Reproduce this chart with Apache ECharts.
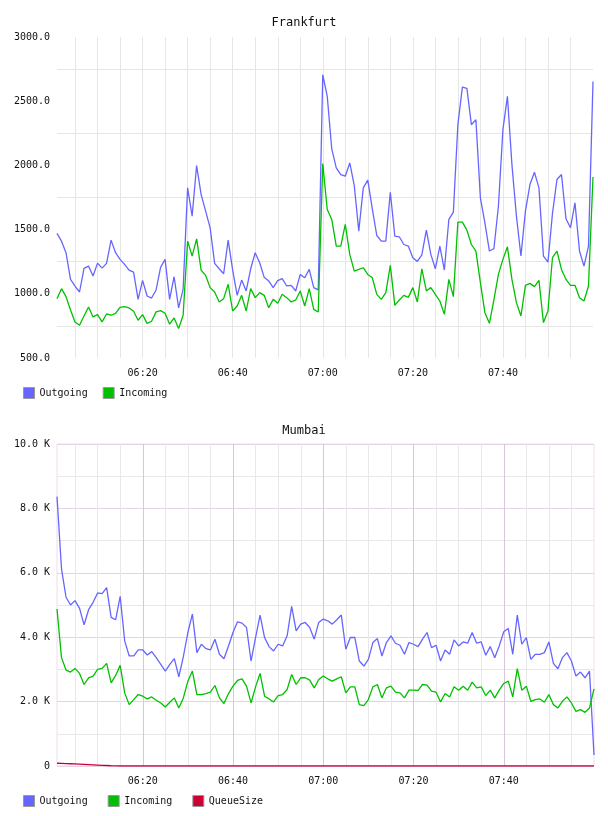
<!DOCTYPE html>
<html>
<head>
<meta charset="utf-8">
<script src="https://cdn.jsdelivr.net/npm/echarts@6/dist/echarts.min.js"></script>
<style>
  html, body { margin: 0; padding: 0; background: #fff; }
  #chart { width: 608px; height: 816px; }
</style>
</head>
<body>
<div id="chart"></div>
<script>
// samples, one per minute starting 06:00:59
const startTime = new Date(2024, 0, 1, 6, 0, 59).getTime();
const stepMs = 60000;

const frankfurtOutgoing = [
  1470, 1410, 1320, 1112, 1060, 1014, 1198, 1216, 1138, 1239, 1200, 1237, 1418, 1320, 1268, 1229, 1185, 1169, 957, 1105,
  983, 967, 1030, 1206, 1268, 957, 1133, 890, 1035, 1825, 1605, 1999, 1773, 1644, 1514, 1237, 1195, 1156, 1418, 1185,
  988, 1107, 1022, 1195, 1320, 1242, 1128, 1100, 1048, 1102, 1118, 1061, 1066, 1022, 1151, 1125, 1190, 1048, 1030, 2706,
  2538, 2128, 1980, 1929, 1916, 2019, 1843, 1488, 1825, 1885, 1662, 1454, 1410, 1410, 1791, 1449, 1444, 1384, 1372, 1281,
  1252, 1304, 1496, 1307, 1195, 1372, 1185, 1579, 1636, 2317, 2610, 2600, 2317, 2356, 1747, 1553, 1333, 1351, 1682, 2278,
  2538, 2006, 1605, 1294, 1644, 1851, 1947, 1825, 1294, 1247, 1625, 1890, 1929, 1584, 1514, 1708, 1333, 1216, 1372, 2654
];
const frankfurtIncoming = [
  962, 1040, 978, 874, 781, 755, 827, 897, 820, 838, 781, 843, 833, 848, 895, 900, 890, 864, 794, 838,
  770, 786, 859, 869, 848, 763, 812, 729, 833, 1410, 1294, 1428, 1185, 1143, 1048, 1014, 936, 962, 1074, 866,
  905, 988, 866, 1040, 970, 1009, 988, 892, 957, 926, 996, 970, 936, 952, 1022, 905, 1040, 879, 858, 2014,
  1657, 1579, 1372, 1372, 1540, 1307, 1177, 1190, 1203, 1151, 1125, 996, 957, 1009, 1221, 910, 952, 988, 972, 1048,
  936, 1195, 1022, 1048, 996, 944, 840, 1112, 978, 1558, 1558, 1496, 1384, 1333, 1087, 853, 770, 952, 1151, 1268,
  1366, 1112, 931, 827, 1066, 1081, 1056, 1105, 776, 866, 1281, 1333, 1190, 1112, 1066, 1066, 970, 944, 1061, 1910
];

const mumbaiOutgoing = [
  8365, 6125, 5240, 5000, 5135, 4896, 4385, 4854, 5083, 5375, 5354, 5540, 4615, 4542, 5270, 3885, 3417, 3417, 3604, 3604,
  3448, 3552, 3365, 3156, 2948, 3156, 3333, 2771, 3396, 4146, 4719, 3521, 3781, 3646, 3604, 3938, 3469, 3333, 3729, 4146,
  4479, 4438, 4302, 3260, 3990, 4688, 3990, 3708, 3573, 3781, 3729, 4042, 4958, 4198, 4406, 4458, 4302, 3938, 4458, 4563,
  4510, 4406, 4542, 4688, 3625, 3990, 3990, 3260, 3104, 3312, 3833, 3958, 3417, 3833, 4042, 3813, 3750, 3469, 3833, 3781,
  3708, 3938, 4146, 3677, 3750, 3260, 3604, 3469, 3917, 3729, 3854, 3813, 4146, 3813, 3854, 3438, 3708, 3365, 3729, 4167,
  4271, 3469, 4688, 3781, 3990, 3312, 3469, 3469, 3521, 3854, 3188, 3021, 3365, 3521, 3260, 2792, 2917, 2740, 2948, 344
];
const mumbaiIncoming = [
  4875, 3365, 2979, 2917, 3031, 2875, 2531, 2740, 2792, 3000, 3031, 3188, 2583, 2813, 3125, 2271, 1906, 2063, 2219, 2167,
  2083, 2146, 2042, 1958, 1833, 1979, 2115, 1802, 2115, 2635, 2948, 2219, 2219, 2250, 2292, 2500, 2115, 1938, 2250, 2479,
  2656, 2708, 2479, 1958, 2458, 2875, 2167, 2083, 1990, 2188, 2219, 2375, 2844, 2531, 2740, 2740, 2667, 2427, 2688, 2792,
  2708, 2635, 2708, 2771, 2271, 2458, 2458, 1906, 1875, 2063, 2458, 2531, 2115, 2427, 2479, 2292, 2271, 2115, 2354, 2354,
  2344, 2531, 2510, 2323, 2292, 1990, 2250, 2146, 2458, 2354, 2479, 2354, 2604, 2427, 2458, 2188, 2354, 2115, 2354, 2563,
  2635, 2146, 3021, 2354, 2479, 2010, 2063, 2083, 1979, 2219, 1906, 1802, 2010, 2146, 1958, 1698, 1750, 1667, 1802, 2396
];
const mumbaiQueue = [
  85, 80, 75, 70, 64, 58, 51, 44, 37, 30, 22, 15, 8, 3, 0, 0, 0, 0, 0, 0,
  0, 0, 0, 0, 0, 0, 0, 0, 0, 0, 0, 0, 0, 0, 0, 0, 0, 0, 0, 0,
  0, 0, 0, 0, 0, 0, 0, 0, 0, 0, 0, 0, 0, 0, 0, 0, 0, 0, 0, 0,
  0, 0, 0, 0, 0, 0, 0, 0, 0, 0, 0, 0, 0, 0, 0, 0, 0, 0, 0, 0,
  0, 0, 0, 0, 0, 0, 0, 0, 0, 0, 0, 0, 0, 0, 0, 0, 0, 0, 0, 0,
  0, 0, 0, 0, 0, 0, 0, 0, 0, 0, 0, 0, 0, 0, 0, 0, 0, 0, 0, 0
];

const legendTop = ['Outgoing', 'Incoming'];
const legendBottom = ['Outgoing', 'Incoming', 'QueueSize'];

const BLUE = '#6666ff';
const GREEN = '#00c000';
const RED = '#cc0033';
const MONO = 'DejaVu Sans Mono';

const tMin = startTime;
const tMax = startTime + (frankfurtOutgoing.length - 1) * stepMs;

function withTime(values) {
  return values.map((v, i) => [startTime + i * stepMs, v]);
}

function pad(n) { return (n < 10 ? '0' : '') + n; }
function timeLabel(v) {
  const d = new Date(v);
  if (d.getSeconds() === 0 && d.getMinutes() % 20 === 0) {
    return pad(d.getHours()) + ':' + pad(d.getMinutes());
  }
  return '';
}

const labelStyle = { fontFamily: MONO, fontSize: 10, color: '#111' };

function timeAxis(gridIndex, splitNumber, lineColor, showLabels) {
  return {
    type: 'time',
    gridIndex: gridIndex,
    position: 'bottom',
    min: tMin,
    max: tMax,
    splitNumber: splitNumber,
    axisLine: { show: false },
    axisTick: { show: false },
    axisLabel: Object.assign({ show: showLabels, formatter: timeLabel, margin: 10, hideOverlap: false }, labelStyle),
    splitLine: { show: true, showMinLine: false, showMaxLine: false, lineStyle: { color: lineColor, width: 1 } }
  };
}

function line(name, data, color, x, y) {
  return {
    name: name,
    type: 'line',
    xAxisIndex: x,
    yAxisIndex: y,
    data: withTime(data),
    showSymbol: false,
    symbol: 'none',
    lineStyle: { color: color, width: 1.3 },
    itemStyle: { color: color },
    emphasis: { disabled: true }
  };
}

const chart = echarts.init(document.getElementById('chart'), null, { renderer: 'canvas' });

chart.setOption({
  animation: false,
  backgroundColor: '#fff',
  title: [
    { text: 'Frankfurt', left: 'center', top: 12, textStyle: { fontFamily: MONO, fontSize: 12, fontWeight: 'normal', color: '#111' } },
    { text: 'Mumbai', left: 'center', top: 420, textStyle: { fontFamily: MONO, fontSize: 12, fontWeight: 'normal', color: '#111' } }
  ],
  legend: [
    {
      data: legendTop, left: 18, top: 382, icon: 'rect', itemWidth: 11, itemHeight: 11, itemGap: 15,
      itemStyle: { borderColor: '#999', borderWidth: 1 },
      textStyle: { fontFamily: MONO, fontSize: 10, color: '#111' }
    },
    {
      data: legendBottom, left: 18, top: 790, icon: 'rect', itemWidth: 11, itemHeight: 11, itemGap: 20,
      itemStyle: { borderColor: '#999', borderWidth: 1 },
      textStyle: { fontFamily: MONO, fontSize: 10, color: '#111' }
    }
  ],
  grid: [
    { left: 57, right: 15, top: 37, height: 321 },
    { left: 57, right: 14, top: 444, height: 322, show: true, borderColor: '#eedcee', borderWidth: 1 }
  ],
  xAxis: [
    timeAxis(0, 15, '#e6e6e6', true),
    timeAxis(1, 15, '#e8e8e8', false),
    timeAxis(1, 5, '#dcc4dc', true)
  ],
  yAxis: [
    {
      type: 'value', gridIndex: 0, min: 500, max: 3000, interval: 500,
      axisLine: { show: false }, axisTick: { show: false },
      axisLabel: Object.assign({ margin: 7, formatter: v => v.toFixed(1) }, labelStyle),
      splitLine: { show: false },
      minorTick: { show: false, splitNumber: 2 },
      minorSplitLine: { show: true, lineStyle: { color: '#e6e6e6', width: 1 } }
    },
    {
      type: 'value', gridIndex: 1, min: 0, max: 10000, interval: 2000,
      axisLine: { show: false }, axisTick: { show: false },
      axisLabel: Object.assign({ margin: 7, formatter: v => v === 0 ? '0' : (v / 1000).toFixed(1) + ' K' }, labelStyle),
      splitLine: { show: true, lineStyle: { color: '#e6d2e6', width: 1 } },
      minorTick: { show: false, splitNumber: 2 },
      minorSplitLine: { show: true, lineStyle: { color: '#e8e8e8', width: 1 } }
    }
  ],
  series: [
    line('Outgoing', frankfurtOutgoing, BLUE, 0, 0),
    line('Incoming', frankfurtIncoming, GREEN, 0, 0),
    line('Outgoing', mumbaiOutgoing, BLUE, 2, 1),
    line('Incoming', mumbaiIncoming, GREEN, 2, 1),
    line('QueueSize', mumbaiQueue, RED, 2, 1)
  ]
});
</script>
</body>
</html>
